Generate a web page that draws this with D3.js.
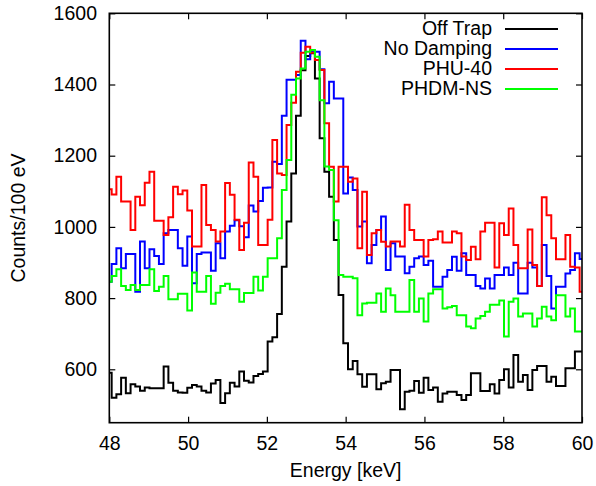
<!DOCTYPE html>
<html>
<head>
<meta charset="utf-8">
<script src="https://cdnjs.cloudflare.com/ajax/libs/d3/7.8.5/d3.min.js"></script>
<style>
html,body{margin:0;padding:0;background:#fff;}
svg{display:block;}
text{font-family:"Liberation Sans",Arial,sans-serif;fill:#000;}
</style>
</head>
<body>
<svg id="chart" width="596" height="486"></svg>
<script>
// ---- data ----
const E_START = 48, E_STEP = 0.12, N_POINTS = 101;   // energy grid (keV), histogram steps
const xTicks = [48, 50, 52, 54, 56, 58, 60];
const yTicks = [600, 800, 1000, 1200, 1400, 1600];
const seriesNames = ["Off Trap", "No Damping", "PHU-40", "PHDM-NS"];
const seriesColors = ["#000000", "#0000ff", "#ff0000", "#00ff00"];

const offTrap = [590,520,530,576,533,558,552,540,549,547,
547,547,608,562,540,535,534,548,556,552,
540,535,560,570,505,533,562,552,594,568,
563,581,587,594,678,690,755,888,1015,1150,
1312,1440,1480,1488,1417,1249,1155,1085,963,809,
673,600,623,586,551,586,586,544,561,565,
598,598,488,537,540,567,534,576,542,549,
509,532,537,537,528,514,528,589,589,539,
539,558,532,570,600,549,640,565,584,542,
598,609,609,565,579,553,553,603,603,650,
650];

const noDamping = [846,896,940,884,924,924,818,959,884,937,
918,896,982,991,991,940,891,973,842,924,
928,928,877,954,912,987,1003,1019,1002,971,
1060,1043,1073,1110,1111,1183,1177,1312,1413,1413,
1427,1523,1471,1492,1492,1443,1347,1408,1361,1361,
1094,1139,1104,1001,1015,898,949,991,1029,879,
954,917,917,870,888,912,917,893,905,832,
832,860,879,916,877,926,865,865,834,827,
855,827,865,865,886,865,899,813,813,899,
886,834,949,862,771,832,832,869,879,926,
910];

const phu40 = [1106,1091,1141,1071,1071,991,1085,1061,1124,1155,
1017,1017,977,1027,1113,1092,1102,1046,945,945,
1118,1005,991,959,987,1123,1090,1020,935,1012,
1181,1141,949,949,1020,1244,1150,1146,1286,1349,
1436,1489,1506,1489,1469,1441,1291,1169,1071,1169,
1169,1127,1136,940,1099,921,982,991,958,945,
959,959,945,1062,991,963,963,917,963,965,
987,956,956,987,982,917,907,944,909,987,
1012,1012,886,1010,977,1052,949,884,884,993,
893,834,1083,1033,968,909,909,977,888,886,
818];

const phdmNS = [846,862,881,834,823,837,823,837,837,881,
820,832,862,797,797,812,812,765,872,818,
818,862,784,815,834,840,825,825,790,814,
814,860,821,860,912,912,968,1104,1188,1371,
1417,1445,1492,1497,1478,1356,1170,1160,1019,865,
860,860,856,752,785,787,787,813,762,827,
808,762,762,762,851,762,799,734,813,825,
825,771,774,778,752,752,720,715,743,750,
762,781,781,793,692,790,799,748,757,757,
720,743,776,748,738,808,808,748,771,706,
706];

const allSeries = [offTrap, noDamping, phu40, phdmNS];

// ---- layout ----
const svg = d3.select("#chart");
const M = {left: 109.3, right: 582, top: 13.3, bottom: 422.7};
const x = d3.scaleLinear().domain([48, 60]).range([M.left, M.right]);
const y = d3.scaleLinear().domain([450, 1600]).range([M.bottom, M.top]);
const FONT = 19.5;

svg.append("clipPath").attr("id", "clip")
  .append("rect").attr("x", M.left).attr("y", M.top)
  .attr("width", M.right - M.left).attr("height", M.bottom - M.top);

// series
const line = d3.line()
  .x(d => x(d.e)).y(d => y(d.v))
  .curve(d3.curveStep);

const gPlot = svg.append("g").attr("clip-path", "url(#clip)");
allSeries.forEach((vals, i) => {
  const pts = vals.map((v, k) => ({e: E_START + E_STEP * k, v}));
  gPlot.append("path")
    .datum(pts)
    .attr("d", line)
    .attr("fill", "none")
    .attr("stroke", seriesColors[i])
    .attr("stroke-width", 2)
    .attr("stroke-linejoin", "miter");
});

// axes (gnuplot style, inward ticks, mirrored)
const TL = 6;
const axB = d3.axisBottom(x).tickValues(xTicks).tickSize(-TL).tickPadding(13.5).tickFormat(d3.format("d"));
const axT = d3.axisTop(x).tickValues(xTicks).tickSize(-TL).tickFormat("");
const axL = d3.axisLeft(y).tickValues(yTicks).tickSize(-TL).tickPadding(12.3).tickFormat(d3.format("d"));
const axR = d3.axisRight(y).tickValues(yTicks).tickSize(-TL).tickFormat("");

function styleAxis(g) {
  g.select(".domain").remove();
  g.selectAll(".tick line").attr("stroke", "#000").attr("stroke-width", 1.2);
  g.selectAll("text").style("font-size", FONT + "px").attr("fill", "#000")
   .style("font-family", '"Liberation Sans", Arial, sans-serif');
}
svg.append("g").attr("transform", `translate(0,${M.bottom})`).call(axB).call(styleAxis);
svg.append("g").attr("transform", `translate(0,${M.top})`).call(axT).call(styleAxis);
svg.append("g").attr("transform", `translate(${M.left},0)`).call(axL).call(styleAxis);
svg.append("g").attr("transform", `translate(${M.right},0)`).call(axR).call(styleAxis);

// frame
svg.append("rect")
  .attr("x", M.left).attr("y", M.top)
  .attr("width", M.right - M.left).attr("height", M.bottom - M.top)
  .attr("fill", "none").attr("stroke", "#000").attr("stroke-width", 1.6);

// axis titles
svg.append("text")
  .attr("x", (M.left + M.right) / 2).attr("y", 477)
  .attr("text-anchor", "middle").style("font-size", FONT + "px")
  .text("Energy [keV]");
svg.append("text")
  .attr("transform", `translate(25,${(M.top + M.bottom) / 2}) rotate(-90)`)
  .attr("text-anchor", "middle").style("font-size", FONT + "px")
  .text("Counts/100 eV");

// legend
const legend = svg.append("g");
seriesNames.forEach((name, i) => {
  const by = 35 + i * 20;
  legend.append("text")
    .attr("x", 492).attr("y", by)
    .attr("text-anchor", "end").style("font-size", FONT + "px")
    .text(name);
  legend.append("line")
    .attr("x1", 505).attr("x2", 558)
    .attr("y1", by - 6).attr("y2", by - 6)
    .attr("stroke", seriesColors[i]).attr("stroke-width", 2);
});
</script>
</body>
</html>
